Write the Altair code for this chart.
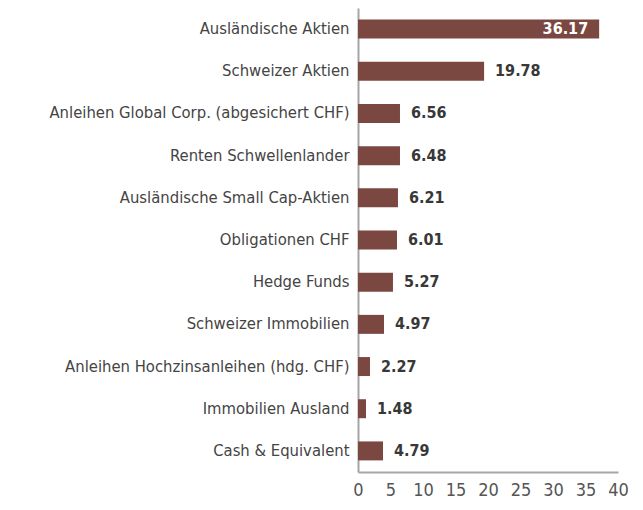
import altair as alt
import pandas as pd

categories = [
    "Ausländische Aktien",
    "Schweizer Aktien",
    "Anleihen Global Corp. (abgesichert CHF)",
    "Renten Schwellenlander",
    "Ausländische Small Cap-Aktien",
    "Obligationen CHF",
    "Hedge Funds",
    "Schweizer Immobilien",
    "Anleihen Hochzinsanleihen (hdg. CHF)",
    "Immobilien Ausland",
    "Cash & Equivalent",
]
# bar lengths as drawn in the picture
bar_values = [37.1, 19.4, 6.46, 6.46, 6.15, 6.0, 5.38, 4.0, 1.85, 1.23, 3.85]
# printed value labels
value_labels = ["36.17", "19.78", "6.56", "6.48", "6.21", "6.01", "5.27", "4.97", "2.27", "1.48", "4.79"]
x_ticks = [0, 5, 10, 15, 20, 25, 30, 35, 40]

df = pd.DataFrame({"cat": categories, "value": bar_values, "label": value_labels})

FONT = "DejaVu Sans Condensed, Roboto, sans-serif"

y_enc = alt.Y(
    "cat:N",
    sort=categories,
    title=None,
    scale=alt.Scale(paddingInner=0.55, paddingOuter=0.275),
    axis=alt.Axis(
        labelFont=FONT,
        labelFontSize=16.5,
        labelColor="#444444",
        labelPadding=9,
        ticks=False,
        domainColor="#a6a6a6",
        domainWidth=2,
        labelLimit=400,
    ),
)
x_enc = alt.X(
    "value:Q",
    title=None,
    scale=alt.Scale(domain=[0, 40], nice=False),
    axis=alt.Axis(
        values=x_ticks,
        grid=False,
        ticks=False,
        labelFont=FONT,
        labelFontSize=18,
        labelColor="#555555",
        labelPadding=9,
        labelOverlap=False,
        domainColor="#a6a6a6",
        domainWidth=2,
        labelFlush=False,
    ),
)

base = alt.Chart(df)
bars = base.mark_bar(color="#7b4841").encode(x=x_enc, y=y_enc)
outside = base.transform_filter("datum.value < 30").mark_text(
    align="left", baseline="middle", dx=11, font=FONT, fontSize=16, fontWeight="bold", color="#383838"
).encode(x=x_enc, y=y_enc, text="label:N")
inside = base.transform_filter("datum.value >= 30").mark_text(
    align="right", baseline="middle", dx=-11, font=FONT, fontSize=16, fontWeight="bold", color="white"
).encode(x=x_enc, y=y_enc, text="label:N")

chart = (
    alt.layer(bars, outside, inside)
    .properties(
        width=260,
        height=464,
        autosize=alt.AutoSizeParams(type="none"),
        padding={"left": 350, "top": 0, "right": 17, "bottom": 30},
    )
    .configure_view(stroke=None)
)
chart.save("out.html", embed_options={"renderer": "svg", "actions": False})
